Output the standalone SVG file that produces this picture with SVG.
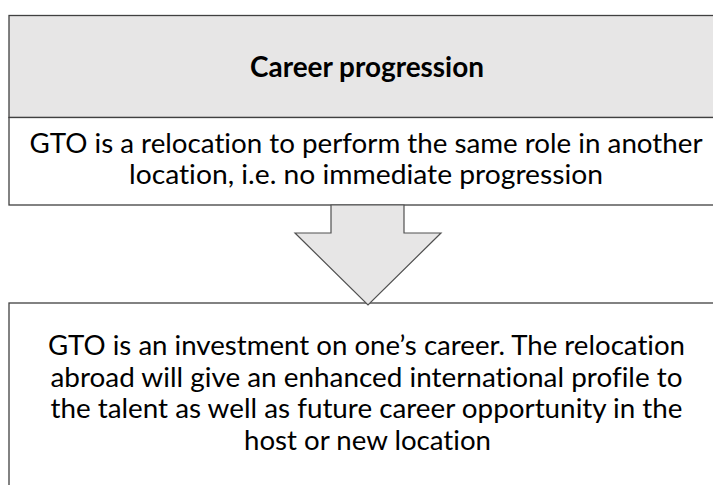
<svg xmlns="http://www.w3.org/2000/svg" width="713" height="485" viewBox="0 0 713 485">
<style>
.box{stroke:#404040;stroke-width:1.3}
.t{font-family:Lato,"Open Sans","Liberation Sans",sans-serif;font-size:27.8px;fill:#000;text-anchor:middle;font-variant-ligatures:none;font-feature-settings:"liga" 0,"clig" 0}
.b{font-weight:bold}
</style>
<rect x="0" y="0" width="713" height="485" fill="#ffffff"/>
<g id="node-header">
<rect class="box" x="9" y="15.5" width="720" height="102" fill="#E7E6E6"/>
<text class="t b" x="367" y="76.5" textLength="234" lengthAdjust="spacingAndGlyphs">Career progression</text>
</g>
<g id="node-current">
<rect class="box" x="9" y="117.5" width="720" height="87.5" fill="#ffffff"/>
<text class="t" x="366" y="153" textLength="673" lengthAdjust="spacingAndGlyphs">GTO is a relocation to perform the same role in another</text>
<text class="t" x="366" y="184" textLength="474" lengthAdjust="spacingAndGlyphs">location, i.e. no immediate progression</text>
</g>
<g id="node-future">
<rect class="box" x="9" y="303" width="720" height="190" fill="#ffffff"/>
<text class="t" x="366.5" y="355" textLength="637" lengthAdjust="spacingAndGlyphs">GTO is an investment on one’s career. The relocation</text>
<text class="t" x="366.5" y="386.5" textLength="632" lengthAdjust="spacingAndGlyphs">abroad will give an enhanced international profile to</text>
<text class="t" x="366.5" y="418" textLength="632" lengthAdjust="spacingAndGlyphs">the talent as well as future career opportunity in the</text>
<text class="t" x="367.5" y="449.5" textLength="247" lengthAdjust="spacingAndGlyphs">host or new location</text>
</g>
<g id="connectors">
<polygon points="331,205 404,205 404,233 441,233 368,305 295,233 331,233" fill="#E7E6E6" stroke="#505050" stroke-width="1.2" stroke-linejoin="miter"/>
</g>
</svg>
